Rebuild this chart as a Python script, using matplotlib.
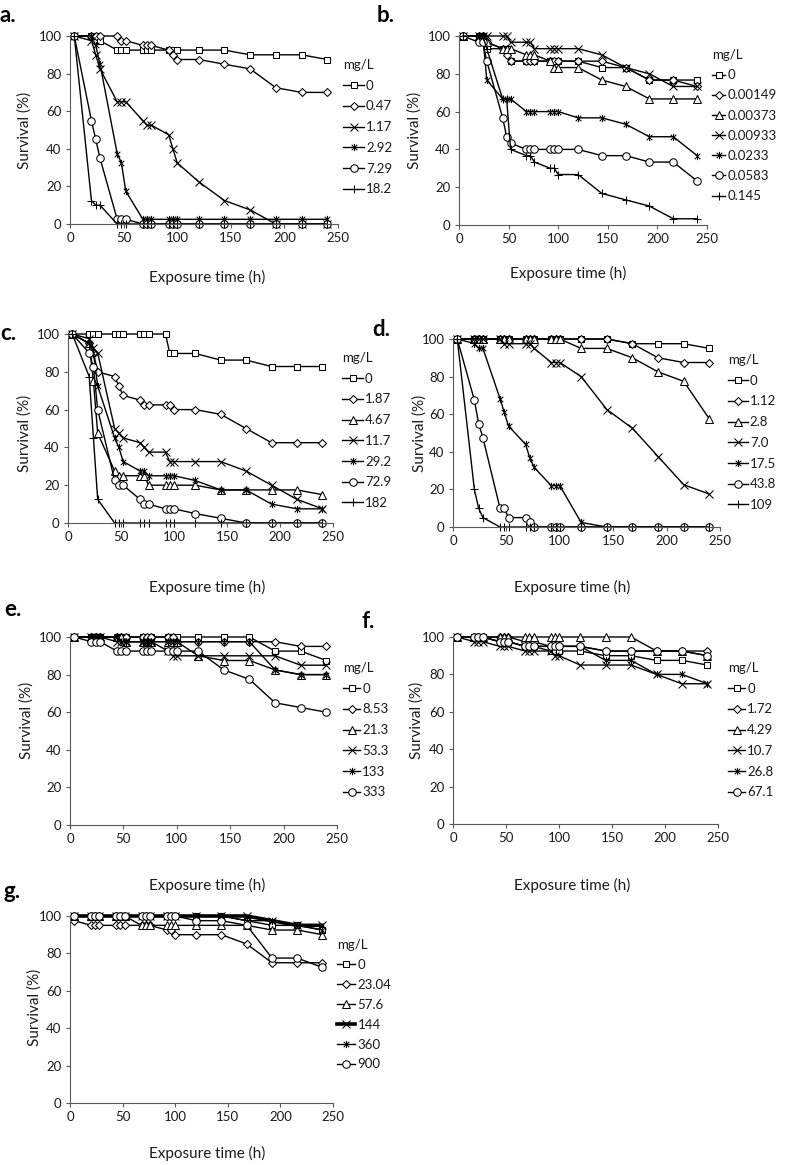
"""
Survival (%) vs exposure time for seven substances, panels a-g.
"""

import matplotlib
matplotlib.use('Agg')
import matplotlib.pyplot as plt
from matplotlib.path import Path

plt.rcParams['font.family'] = ['Lato', 'DejaVu Sans']

W, H = 787, 1165

# sampling times (h), same for every panel
HOURS = [4, 20, 24, 28, 44, 48, 52, 68, 72, 76, 92, 96, 100, 120, 144, 168, 192, 216, 240]

# a.
A_CONC = ['0', '0.47', '1.17', '2.92', '7.29', '18.2']
A_SURV = [
    [100, 100, 100, 97.5, 92.5, 92.5, 92.5, 92.5, 92.5, 92.5, 92.5, 92.5, 92.5, 92.5, 92.5, 90, 90, 90, 87.5],
    [100, 100, 100, 100, 100, 97.5, 97.5, 95, 95, 95, 92.5, 90, 87.5, 87.5, 85, 82.5, 72.5, 70, 70],
    [100, 97.5, 90, 82.5, 65, 65, 65, 55, 52.5, 52.5, 47.5, 40, 32.5, 22.5, 12.5, 7.5, 0, 0, 0],
    [100, 100, 95, 85, 37.5, 32.5, 17.5, 2.5, 2.5, 2.5, 2.5, 2.5, 2.5, 2.5, 2.5, 2.5, 2.5, 2.5, 2.5],
    [100, 55, 45, 35, 2.5, 2.5, 2.5, 0, 0, 0, 0, 0, 0, 0, 0, 0, 0, 0, 0],
    [100, 12.5, 10, 10, 0, 0, 0, 0, 0, 0, 0, 0, 0, 0, 0, 0, 0, 0, 0],
]

# b.
B_CONC = ['0', '0.00149', '0.00373', '0.00933', '0.0233', '0.0583', '0.145']
B_SURV = [
    [100, 100, 100, 93.3, 93.3, 93.3, 86.7, 86.7, 86.7, 86.7, 86.7, 86.7, 86.7, 86.7, 83.3, 83.3, 76.7, 76.7, 76.7],
    [100, 100, 100, 96.7, 93.3, 90, 86.7, 86.7, 86.7, 86.7, 86.7, 86.7, 86.7, 86.7, 86.7, 83.3, 76.7, 76.7, 73.3],
    [100, 100, 100, 96.7, 93.3, 93.3, 93.3, 90, 90, 90, 86.7, 83.3, 83.3, 83.3, 76.7, 73.3, 66.7, 66.7, 66.7],
    [100, 100, 100, 100, 100, 100, 96.7, 96.7, 96.7, 93.3, 93.3, 93.3, 93.3, 93.3, 90, 83.3, 80, 73.3, 73.3],
    [100, 100, 100, 76.7, 66.7, 66.7, 66.7, 60, 60, 60, 60, 60, 60, 56.7, 56.7, 53.3, 46.7, 46.7, 36.7],
    [100, 96.7, 96.7, 86.7, 56.7, 46.7, 43.3, 40, 40, 40, 40, 40, 40, 40, 36.7, 36.7, 33.3, 33.3, 23.3],
    [100, 100, 100, 93.3, 66.7, 66.7, 40, 36.7, 36.7, 33.3, 30, 30, 26.7, 26.7, 16.7, 13.3, 10, 3.3, 3.3],
]

# c.
C_CONC = ['0', '1.87', '4.67', '11.7', '29.2', '72.9', '182']
C_SURV = [
    [100, 100, 100, 100, 100, 100, 100, 100, 100, 100, 100, 89.7, 89.7, 89.7, 86.2, 86.2, 82.8, 82.8, 82.8],
    [100, 95, 90, 80, 77.5, 72.5, 67.5, 65, 62.5, 62.5, 62.5, 62.5, 60, 60, 57.5, 50, 42.5, 42.5, 42.5],
    [100, 95, 75, 47.5, 27.5, 25, 25, 25, 25, 20, 20, 20, 20, 20, 17.5, 17.5, 17.5, 17.5, 15],
    [100, 97.5, 92.5, 90, 50, 47.5, 45, 42.5, 40, 37.5, 37.5, 32.5, 32.5, 32.5, 32.5, 27.5, 20, 12.5, 7.5],
    [100, 95, 90, 72.5, 45, 40, 32.5, 27.5, 27.5, 25, 25, 25, 25, 22.5, 17.5, 17.5, 10, 7.5, 7.5],
    [100, 90, 82.5, 60, 22.5, 20, 20, 12.5, 10, 10, 7.5, 7.5, 7.5, 5, 2.5, 0, 0, 0, 0],
    [100, 77.5, 45, 12.5, 0, 0, 0, 0, 0, 0, 0, 0, 0, 0, 0, 0, 0, 0, 0],
]

# d.
D_CONC = ['0', '1.12', '2.8', '7.0', '17.5', '43.8', '109']
D_SURV = [
    [100, 100, 100, 100, 100, 100, 100, 100, 100, 100, 100, 100, 100, 100, 100, 97.5, 97.5, 97.5, 95],
    [100, 100, 100, 100, 100, 100, 100, 100, 100, 100, 100, 100, 100, 100, 100, 97.5, 90, 87.5, 87.5],
    [100, 100, 100, 100, 100, 100, 100, 100, 100, 100, 100, 100, 100, 95, 95, 90, 82.5, 77.5, 57.5],
    [100, 100, 100, 100, 100, 97.5, 97.5, 97.5, 97.5, 95, 87.5, 87.5, 87.5, 80, 62.5, 52.5, 37.5, 22.5, 17.5],
    [100, 97.6, 95.1, 95.1, 68.3, 61, 53.7, 43.9, 36.6, 31.7, 22, 22, 22, 2.4, 0, 0, 0, 0, 0],
    [100, 67.5, 55, 47.5, 10, 10, 5, 5, 2.5, 0, 0, 0, 0, 0, 0, 0, 0, 0, 0],
    [100, 20, 10, 5, 0, 0, 0, 0, 0, 0, 0, 0, 0, 0, 0, 0, 0, 0, 0],
]

# e.
E_CONC = ['0', '8.53', '21.3', '53.3', '133', '333']
E_SURV = [
    [100, 100, 100, 100, 100, 100, 100, 100, 100, 100, 100, 100, 100, 100, 100, 100, 92.5, 92.5, 87.5],
    [100, 100, 100, 100, 100, 100, 100, 100, 100, 100, 100, 100, 97.5, 97.5, 97.5, 97.5, 97.5, 95, 95],
    [100, 100, 100, 100, 100, 100, 97.5, 97.5, 97.5, 97.5, 97.5, 97.5, 97.5, 90, 87.5, 87.5, 82.5, 80, 80],
    [100, 100, 100, 100, 97.5, 97.5, 97.5, 97.5, 97.5, 97.5, 92.5, 90, 90, 90, 90, 90, 90, 85, 85],
    [100, 100, 100, 100, 100, 97.5, 97.5, 97.5, 97.5, 97.5, 97.5, 97.5, 97.5, 97.5, 97.5, 97.5, 82.5, 80, 80],
    [100, 97.5, 97.5, 97.5, 92.5, 92.5, 92.5, 92.5, 92.5, 92.5, 92.5, 92.5, 92.5, 92.5, 82.5, 77.5, 65, 62.5, 60],
]

# f.
F_CONC = ['0', '1.72', '4.29', '10.7', '26.8', '67.1']
F_SURV = [
    [100, 100, 100, 100, 97.5, 97.5, 97.5, 95, 95, 95, 92.5, 92.5, 92.5, 92.5, 90, 90, 87.5, 87.5, 85],
    [100, 100, 100, 100, 100, 100, 100, 97.5, 97.5, 97.5, 95, 95, 95, 95, 92.5, 92.5, 92.5, 92.5, 92.5],
    [100, 100, 100, 100, 100, 100, 100, 100, 100, 100, 100, 100, 100, 100, 100, 100, 92.5, 92.5, 90],
    [100, 97.5, 97.5, 97.5, 95, 95, 95, 92.5, 92.5, 92.5, 92.5, 90, 90, 85, 85, 85, 80, 75, 75],
    [100, 100, 100, 100, 97.5, 97.5, 97.5, 95, 95, 95, 95, 95, 95, 95, 87.5, 87.5, 80, 80, 75],
    [100, 100, 100, 100, 97.5, 97.5, 97.5, 95, 95, 95, 95, 95, 95, 95, 92.5, 92.5, 92.5, 92.5, 90],
]

# g.
G_CONC = ['0', '23.04', '57.6', '144', '360', '900']
G_SURV = [
    [100, 100, 100, 100, 100, 100, 100, 100, 100, 100, 100, 100, 100, 100, 100, 97.5, 95, 95, 92.5],
    [97.5, 95, 95, 95, 95, 95, 95, 95, 95, 95, 92.5, 92.5, 90, 90, 90, 85, 75, 75, 75],
    [100, 100, 100, 100, 100, 100, 100, 95, 95, 95, 95, 95, 95, 95, 95, 95, 92.5, 92.5, 90],
    [100, 100, 100, 100, 100, 100, 100, 100, 100, 100, 100, 100, 100, 100, 100, 100, 97.5, 95, 95],
    [100, 100, 100, 100, 100, 100, 100, 100, 100, 100, 100, 100, 100, 100, 100, 97.5, 97.5, 95, 92.5],
    [100, 100, 100, 100, 100, 100, 100, 100, 100, 100, 100, 100, 100, 97.5, 97.5, 95, 77.5, 77.5, 72.5],
]

# Excel style asterisk: an x with a vertical bar through it
ASTERISK = Path([(-1, -1), (1, 1), (-1, 1), (1, -1), (0, -1.3), (0, 1.3)],
                [Path.MOVETO, Path.LINETO, Path.MOVETO, Path.LINETO, Path.MOVETO, Path.LINETO])

MK = {
    'sq': dict(marker='s', ms=4.8),
    'di': dict(marker='D', ms=3.8),
    'tr': dict(marker='^', ms=5.2),
    'x': dict(marker='x', ms=5.2),
    'ast': dict(marker=ASTERISK, ms=5.2),
    'ci': dict(marker='o', ms=5.4),
    'pl': dict(marker='+', ms=6.2),
}

AXIS_COL = '#595959'
TEXT_COL = '#1a1a1a'

fig = plt.figure(figsize=(W / 100, H / 100), dpi=100)


def fig_xy(x, y):
    return x / W, 1 - y / H


def panel(box, conc, surv, markers, letter, letter_xy, leg_xy, handlelen,
          xlab_xy, ylab_xy, spacing=0.66, thick=None):
    l, t, r, b = box
    ax = fig.add_axes([l / W, 1 - b / H, (r - l) / W, (b - t) / H])

    for c, s, m in zip(conc, surv, markers):
        lw = 2.6 if c == thick else 1.0
        ax.plot(HOURS, s, color='black', lw=lw, mfc='white', mec='black',
                mew=0.75, clip_on=False, label=c, **MK[m])

    ax.set_xlim(0, 250)
    ax.set_ylim(0, 100)
    ax.set_xticks(range(0, 251, 50))
    ax.set_yticks(range(0, 101, 20))
    for side in ['top', 'right']:
        ax.spines[side].set_visible(False)
    for side in ['left', 'bottom']:
        ax.spines[side].set_color(AXIS_COL)
        ax.spines[side].set_linewidth(0.8)
    ax.tick_params(direction='out', length=3, width=0.8, color=AXIS_COL,
                   labelsize=9.5, labelcolor=TEXT_COL, pad=3)

    leg = ax.legend(title='mg/L', loc='upper left',
                    bbox_to_anchor=fig_xy(*leg_xy), bbox_transform=fig.transFigure,
                    frameon=False, fontsize=9.5, title_fontsize=9.5,
                    handlelength=handlelen, handletextpad=0.15,
                    labelspacing=spacing, borderpad=0, borderaxespad=0,
                    alignment='left')
    leg.get_title().set_color(TEXT_COL)
    for txt in leg.get_texts():
        txt.set_color(TEXT_COL)

    fig.text(*fig_xy(*letter_xy), letter, fontsize=16, fontweight='bold',
             ha='left', va='center')
    fig.text(*fig_xy(*xlab_xy), 'Exposure time (h)', fontsize=11,
             ha='center', va='center', color=TEXT_COL)
    fig.text(*fig_xy(*ylab_xy), 'Survival (%)', fontsize=11, rotation=90,
             ha='center', va='center', color=TEXT_COL)
    return ax


M6 = ['sq', 'di', 'x', 'ast', 'ci', 'pl']
M7 = ['sq', 'di', 'tr', 'x', 'ast', 'ci', 'pl']
M6T = ['sq', 'di', 'tr', 'x', 'ast', 'ci']

panel((70, 36, 338, 224), A_CONC, A_SURV, M6, 'a.', (0, 15), (343, 59), 1.6,
      (207, 277), (25, 130))
panel((459, 36, 707, 225), B_CONC, B_SURV, M7, 'b.', (377, 15), (712, 49), 1.0,
      (568, 273), (415, 130), spacing=0.62)
panel((68, 334, 333, 523), C_CONC, C_SURV, M7, 'c.', (0, 334), (342, 352), 1.6,
      (207, 587), (25, 433))
panel((453, 339, 720, 527), D_CONC, D_SURV, M7, 'd.', (372, 330), (728, 354), 1.5,
      (572, 587), (420, 433))
panel((70, 637, 337, 825), E_CONC, E_SURV, M6T, 'e.', (4, 610), (343, 662), 1.3,
      (207, 885), (27, 720))
panel((453, 637, 718, 824), F_CONC, F_SURV, M6T, 'f.', (362, 622), (728, 662), 1.3,
      (572, 885), (417, 720))
panel((70, 916, 333, 1103), G_CONC, G_SURV, M6T, 'g.', (4, 892), (337, 939), 1.4,
      (207, 1153), (35, 1007), spacing=0.6, thick='144')

fig.savefig('out.png', dpi=100)
